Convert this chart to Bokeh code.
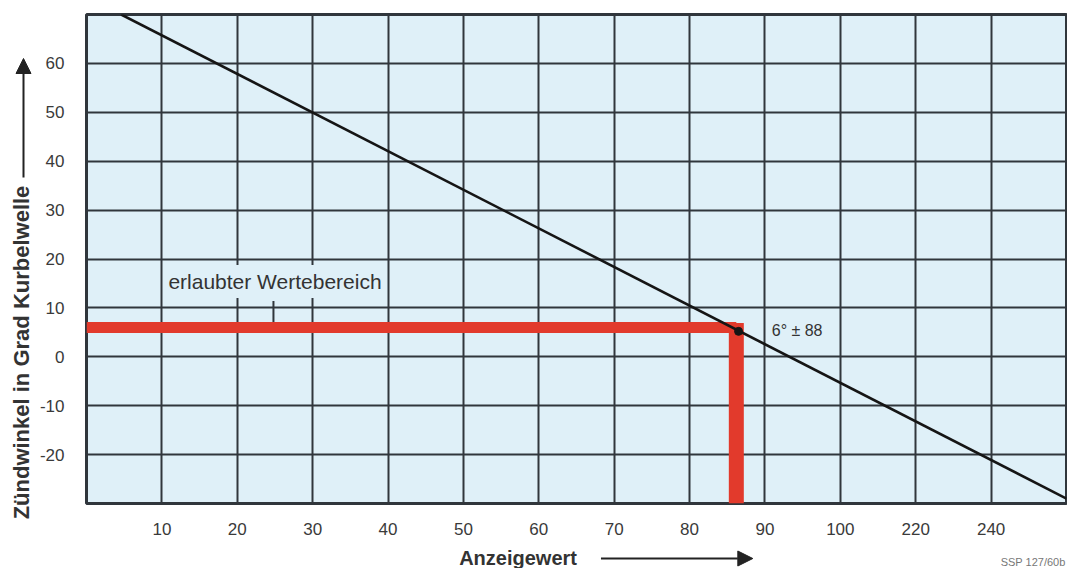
import math
from bokeh.plotting import figure
from bokeh.layouts import row, column
from bokeh.models import Range1d, FixedTicker, Label, Arrow, NormalHead
from bokeh.core.properties import value
from bokeh.embed import file_html
from bokeh.resources import INLINE

# ---- data ----
x_tick_pos = [10, 20, 30, 40, 50, 60, 70, 80, 90, 100, 110, 120]
x_tick_labels = ["10", "20", "30", "40", "50", "60", "70", "80", "90", "100", "220", "240"]
y_tick_pos = [-20, -10, 0, 10, 20, 30, 40, 50, 60]
y_tick_labels = ["-20", "-10", "0", "10", "20", "30", "40", "50", "60"]

curve_x = [4.6, 130]
curve_y = [70, -29]

allowed_x = 86.2      # Anzeigewert of the allowed range
allowed_y = 6         # Zündwinkel of the allowed range
point_x = [86.5]
point_y = [5.2]

BG = "#dff0f8"
GRID = "#30363c"
TXT = "#3a3a3a"
FONT = "Liberation Sans"
RED = "#e23a2c"

LW = 36          # width of left title strip
PW = 1031        # width of main chart

# ---- main chart ----
p = figure(width=PW, height=539, output_backend="svg", toolbar_location=None,
           x_range=Range1d(0, 130), y_range=Range1d(-30, 70),
           min_border_left=46, min_border_right=1, min_border_top=14, min_border_bottom=36)
p.background_fill_color = BG
p.border_fill_color = "white"
p.outline_line_color = GRID
p.outline_line_width = 3

for ax in (p.xaxis[0], p.yaxis[0]):
    ax.axis_line_color = None
    ax.major_tick_line_color = None
    ax.minor_tick_line_color = None
    ax.major_label_text_font = FONT
    ax.major_label_text_font_size = "17px"
    ax.major_label_text_color = TXT

p.xaxis.ticker = FixedTicker(ticks=x_tick_pos)
p.xaxis.major_label_overrides = {t: l for t, l in zip(x_tick_pos, x_tick_labels)}
p.xaxis.major_label_standoff = 13
p.yaxis.ticker = FixedTicker(ticks=y_tick_pos)
p.yaxis.major_label_overrides = {t: l for t, l in zip(y_tick_pos, y_tick_labels)}
p.yaxis.major_label_standoff = 16

p.xgrid.grid_line_color = GRID
p.xgrid.grid_line_width = 2
p.ygrid.grid_line_color = GRID
p.ygrid.grid_line_width = 2

# red allowed-range band
p.line([0, allowed_x], [allowed_y, allowed_y], line_color=RED, line_width=11)
p.line([allowed_x, allowed_x], [allowed_y + 0.9, -30], line_color=RED, line_width=15)

# characteristic line
p.line(curve_x, curve_y, line_color="#151515", line_width=2.6)
p.scatter(point_x, point_y, size=8, color="#151515")

# label for allowed range with leader line
p.add_layout(Label(x=10.2, y=15.4, text="erlaubter Wertebereich", text_font=FONT,
                   text_font_size="21px", text_color="#333333", text_baseline="middle",
                   background_fill_color=BG, padding=5))
p.segment(x0=[24.8], y0=[11.4], x1=[24.8], y1=[allowed_y + 1.1], line_color=GRID, line_width=2)

p.add_layout(Label(x=90.9, y=5.4, text="6° ± 88", text_font=FONT, text_font_size="16px",
                   text_color="#333333", text_baseline="middle"))

# ---- left strip: y title with arrow ----
L = figure(width=LW, height=568, output_backend="svg", toolbar_location=None,
           x_range=Range1d(0, LW), y_range=Range1d(0, 568),
           x_axis_location=None, y_axis_location=None,
           min_border=0, outline_line_color=None)
L.grid.visible = False
L.text(x=[21], y=[216], text=["Zündwinkel in Grad Kurbelwelle"], angle=math.pi / 2,
       text_font=value(FONT), text_font_style="bold", text_font_size="22px",
       text_color="#333333", text_align="center", text_baseline="middle")
L.add_layout(Arrow(end=NormalHead(size=15, fill_color="#222222", line_color="#222222"),
                   x_start=23, y_start=391, x_end=23, y_end=510,
                   line_color="#222222", line_width=2))

# ---- bottom strip: x title with arrow (frame aligns with main chart frame) ----
B = figure(width=PW, height=29, output_backend="svg", toolbar_location=None,
           x_range=Range1d(85, 1066), y_range=Range1d(0, 29),
           x_axis_location=None, y_axis_location=None,
           min_border=0, outline_line_color=None)
B.grid.visible = False
B.text(x=[517], y=[11], text=["Anzeigewert"],
       text_font=value(FONT), text_font_style="bold", text_font_size="20px",
       text_color="#333333", text_align="center", text_baseline="middle")
B.add_layout(Arrow(end=NormalHead(size=15, fill_color="#222222", line_color="#222222"),
                   x_start=600, y_start=10, x_end=752, y_end=10,
                   line_color="#222222", line_width=2))
B.text(x=[1065], y=[7], text=["SSP 127/60b"],
       text_font=value(FONT), text_font_size="11px",
       text_color="#777777", text_align="right", text_baseline="middle")

layout = row(L, column(p, B, spacing=0), spacing=0)
open("out.html", "w").write(file_html(layout, INLINE))
